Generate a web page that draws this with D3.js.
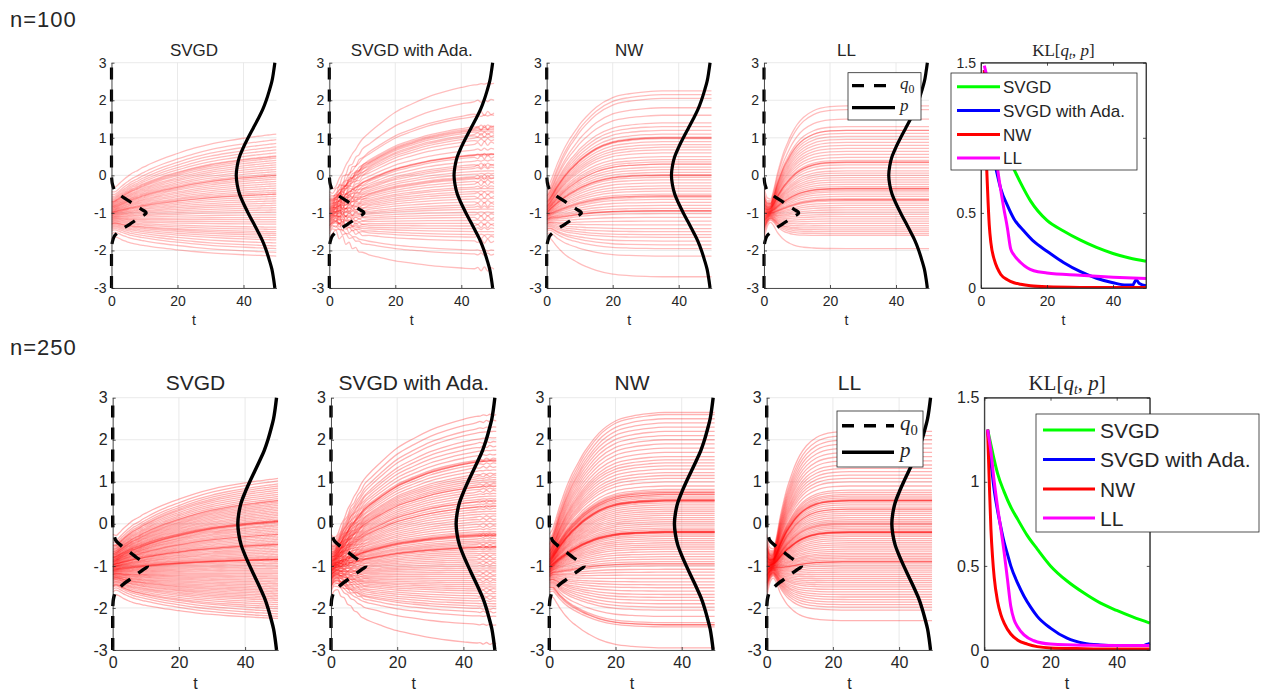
<!DOCTYPE html>
<html><head><meta charset="utf-8">
<script src="https://cdn.jsdelivr.net/npm/d3@7"></script>
<style>
body{margin:0;background:#fff}
svg{display:block}
text{font-family:"Liberation Sans",Arial,Helvetica,sans-serif;fill:#262626}
.serif{font-family:"Liberation Serif","DejaVu Serif",serif}
</style>
</head><body>
<svg id="chart" width="1261" height="691"></svg>
<script>
// ---------------- DATA ----------------
const methods = ["SVGD", "SVGD with Ada.", "NW", "LL"];
const klColors = ["#00ff00", "#0000ff", "#ff0000", "#ff00ff"];
const rowLabels = ["n=100", "n=250"];
const xTicks = [0, 20, 40];
const yTicks = [-3, -2, -1, 0, 1, 2, 3];
const klYTicks = [0, 0.5, 1, 1.5];
const klYTickLabels = ["0", "0.5", "1", "1.5"];

// time grid for particle paths and fraction of the way from start to final position
const timeGrid = [0,1,2,3,4,5,6,7,8,9,10,12,15,20,25,30,35,40,44,45,46,47,48,49,50];
const progSVGD = [0,0.045,0.09,0.13,0.17,0.21,0.25,0.28,0.31,0.35,0.38,0.44,0.52,0.63,0.73,0.81,0.87,0.92,0.955,0.962,0.97,0.978,0.985,0.993,1];
const progAda  = [0,0.05,0.1,0.15,0.2,0.25,0.3,0.34,0.38,0.42,0.46,0.52,0.6,0.72,0.8,0.87,0.92,0.96,0.985,0.99,0.993,0.996,0.998,0.999,1];
const progNW   = [0,0.08,0.16,0.24,0.31,0.38,0.44,0.5,0.55,0.6,0.65,0.73,0.83,0.93,0.97,0.99,1,1,1,1,1,1,1,1,1];
const progLL   = [0,0.02,0.06,0.15,0.27,0.38,0.48,0.56,0.64,0.71,0.77,0.86,0.94,0.99,1,1,1,1,1,1,1,1,1,1,1];
// early contraction of the particles toward the q0 mean
const pinchCenter = -1;
const pinchSVGD = [0,0.12,0.12,0.08,0.05,0.03,0.01,0,0,0,0,0,0,0,0,0,0,0,0,0,0,0,0,0,0];
const pinchAda  = [0,0.3,0.4,0.35,0.3,0.25,0.2,0.15,0.1,0.05,0,0,0,0,0,0,0,0,0,0,0,0,0,0,0];
const pinchNW   = [0,0.15,0.15,0.1,0.06,0.03,0,0,0,0,0,0,0,0,0,0,0,0,0,0,0,0,0,0,0];
const pinchLL   = [0,0.5,0.7,0.65,0.5,0.4,0.3,0.22,0.15,0.1,0.05,0,0,0,0,0,0,0,0,0,0,0,0,0,0];
// zig-zag of the adaptive step size runs
const wobbleAda = [0,0,0.07,-0.08,0.08,-0.07,0.06,-0.05,0.04,-0.03,0.02,0,0,0,0,0,0,0,0,0.04,-0.05,0.06,-0.05,0.04,0];
const wobbleSign = [1,-0.6,0.3,-1,0.7,-0.2,0,0.5];

// initial particle positions (sorted)
const start100 = [-1.70,-1.56,-1.49,-1.44,-1.40,-1.37,-1.34,-1.31,-1.29,-1.26,-1.24,-1.22,-1.20,-1.18,-1.17,-1.15,-1.13,-1.12,-1.10,-1.08,-1.07,-1.05,-1.04,-1.02,-1.01,-0.99,-0.98,-0.96,-0.95,-0.93,-0.92,-0.90,-0.88,-0.87,-0.85,-0.83,-0.82,-0.80,-0.78,-0.76,-0.74,-0.71,-0.69,-0.66,-0.63,-0.60,-0.56,-0.51,-0.44,-0.30];
const start250 = [-1.75,-1.62,-1.56,-1.51,-1.48,-1.45,-1.42,-1.40,-1.38,-1.35,-1.34,-1.32,-1.30,-1.29,-1.27,-1.26,-1.25,-1.23,-1.22,-1.21,-1.20,-1.19,-1.17,-1.16,-1.15,-1.14,-1.13,-1.12,-1.11,-1.10,-1.09,-1.08,-1.07,-1.06,-1.05,-1.04,-1.03,-1.02,-1.02,-1.01,-0.99,-0.98,-0.98,-0.97,-0.96,-0.95,-0.94,-0.93,-0.92,-0.91,-0.90,-0.89,-0.88,-0.87,-0.86,-0.85,-0.84,-0.83,-0.81,-0.80,-0.79,-0.78,-0.77,-0.75,-0.74,-0.73,-0.71,-0.70,-0.68,-0.66,-0.65,-0.62,-0.60,-0.58,-0.55,-0.52,-0.49,-0.44,-0.38,-0.25];

// final particle positions at t = 50 (clusters repeat a value)
const final100SVGD = [-2.15,-2.05,-1.95,-1.88,-1.8,-1.72,-1.66,-1.6,-1.55,-1.5,-1.44,-1.38,-1.3,-1.24,-1.18,-1.12,-1.05,-0.98,-0.92,-0.86,-0.8,-0.74,-0.68,-0.62,-0.56,-0.5,-0.5,-0.45,-0.4,-0.34,-0.28,-0.22,-0.16,-0.1,-0.05,0.0,0.0,0.04,0.1,0.16,0.22,0.28,0.34,0.4,0.46,0.5,0.52,0.6,0.68,0.76,0.85,0.95,1.1];
const final100Ada  = [-2.5,-2.1,-2.0,-1.75,-1.65,-1.58,-1.5,-1.42,-1.35,-1.28,-1.2,-1.12,-1.05,-0.98,-0.9,-0.84,-0.78,-0.7,-0.62,-0.55,-0.48,-0.42,-0.35,-0.3,-0.22,-0.15,-0.08,-0.05,-0.02,0.05,0.12,0.2,0.25,0.3,0.4,0.5,0.55,0.56,0.57,0.7,0.85,0.95,1.02,1.08,1.12,1.18,1.22,1.25,1.28,1.32,1.6,1.66,2.0,2.45];
const final100NW   = [-2.7,-2.15,-1.95,-1.85,-1.75,-1.65,-1.58,-1.5,-1.42,-1.32,-1.22,-1.12,-1.02,-0.95,-0.95,-0.94,-0.88,-0.8,-0.72,-0.64,-0.58,-0.55,-0.55,-0.5,-0.42,-0.35,-0.28,-0.2,-0.12,-0.05,0.0,0.0,0.02,0.08,0.15,0.22,0.3,0.3,0.36,0.42,0.5,0.6,0.68,0.75,0.82,0.9,0.98,1.0,1.0,1.02,1.1,1.2,1.3,1.4,1.6,1.8,2.05,2.15,2.25];
const final100LL   = [-1.95,-1.6,-1.55,-1.5,-1.45,-1.4,-1.34,-1.28,-1.22,-1.16,-1.1,-1.04,-0.98,-0.92,-0.86,-0.8,-0.74,-0.68,-0.65,-0.65,-0.62,-0.56,-0.5,-0.44,-0.4,-0.36,-0.35,-0.35,-0.3,-0.24,-0.18,-0.12,-0.06,0.0,0.06,0.12,0.2,0.28,0.34,0.35,0.36,0.4,0.48,0.56,0.64,0.72,0.8,0.88,0.96,1.04,1.12,1.2,1.2,1.3,1.5,1.75,1.85];
const final250SVGD = [-2.25,-2.2,-2.14,-2.08,-2.02,-1.97,-1.92,-1.87,-1.82,-1.78,-1.74,-1.7,-1.66,-1.62,-1.58,-1.54,-1.5,-1.46,-1.42,-1.38,-1.34,-1.3,-1.26,-1.22,-1.18,-1.14,-1.1,-1.06,-1.02,-0.98,-0.94,-0.9,-0.86,-0.85,-0.85,-0.84,-0.83,-0.8,-0.77,-0.73,-0.69,-0.65,-0.61,-0.57,-0.53,-0.5,-0.49,-0.48,-0.45,-0.41,-0.37,-0.33,-0.29,-0.25,-0.25,-0.21,-0.17,-0.13,-0.09,-0.05,-0.02,0.02,0.05,0.05,0.06,0.08,0.08,0.12,0.16,0.2,0.24,0.28,0.32,0.36,0.4,0.44,0.48,0.52,0.55,0.56,0.6,0.65,0.7,0.75,0.8,0.85,0.9,0.95,1.02,1.08];
const final250Ada  = [-2.85,-2.4,-2.2,-2.1,-2.02,-1.96,-1.9,-1.84,-1.78,-1.72,-1.66,-1.6,-1.55,-1.5,-1.45,-1.4,-1.35,-1.3,-1.25,-1.2,-1.15,-1.1,-1.05,-1.0,-0.95,-0.9,-0.85,-0.8,-0.75,-0.7,-0.65,-0.6,-0.56,-0.55,-0.55,-0.52,-0.48,-0.44,-0.4,-0.35,-0.3,-0.28,-0.27,-0.25,-0.25,-0.22,-0.18,-0.12,-0.06,0.0,0.06,0.12,0.18,0.24,0.3,0.36,0.42,0.42,0.48,0.54,0.55,0.6,0.66,0.72,0.78,0.84,0.9,0.9,0.95,1.0,1.05,1.1,1.15,1.2,1.28,1.36,1.44,1.5,1.5,1.52,1.55,1.65,1.75,1.85,1.95,2.05,2.2,2.3,2.45,2.6];
const final250NW   = [-2.95,-2.45,-2.4,-2.4,-2.35,-2.2,-2.05,-1.98,-1.9,-1.82,-1.75,-1.68,-1.6,-1.52,-1.45,-1.38,-1.3,-1.22,-1.15,-1.08,-1.0,-0.95,-0.95,-0.9,-0.84,-0.78,-0.72,-0.66,-0.6,-0.55,-0.5,-0.45,-0.4,-0.35,-0.3,-0.26,-0.22,-0.21,-0.2,-0.2,-0.19,-0.18,-0.18,-0.14,-0.1,-0.05,0.0,0.05,0.1,0.15,0.2,0.25,0.3,0.35,0.4,0.45,0.5,0.54,0.54,0.55,0.56,0.57,0.58,0.62,0.66,0.7,0.7,0.74,0.75,0.78,0.82,0.9,1.0,1.08,1.15,1.22,1.3,1.38,1.45,1.52,1.6,1.7,1.8,1.9,2.0,2.1,2.2,2.3,2.4,2.5,2.6,2.65];
const final250LL   = [-2.3,-2.05,-1.98,-1.92,-1.86,-1.8,-1.74,-1.68,-1.62,-1.56,-1.5,-1.45,-1.4,-1.35,-1.3,-1.25,-1.2,-1.15,-1.1,-1.05,-1.0,-0.95,-0.91,-0.9,-0.9,-0.86,-0.82,-0.78,-0.74,-0.7,-0.65,-0.6,-0.55,-0.5,-0.45,-0.4,-0.35,-0.3,-0.26,-0.22,-0.21,-0.2,-0.2,-0.19,-0.18,-0.14,-0.1,-0.06,-0.02,0.0,0.02,0.06,0.1,0.15,0.2,0.25,0.3,0.35,0.35,0.4,0.45,0.5,0.54,0.55,0.55,0.56,0.58,0.62,0.66,0.7,0.75,0.8,0.9,1.0,1.08,1.16,1.24,1.32,1.4,1.5,1.6,1.7,1.8,1.9,2.0,2.1,2.2];

// density curves drawn in time units: q0 bulges right from t = 0, p bulges left from t = 50
const q0Y    = [-3,-2.5,-2,-1.9,-1.8,-1.7,-1.6,-1.5,-1.4,-1.3,-1.2,-1.1,-1,-0.9,-0.8,-0.7,-0.6,-0.5,-0.4,-0.3,-0.2,-0.1,0,0.5,1,1.5,2,2.5,3];
const q0Dens = [0,0,0,0.08,0.2,0.5,1.0,2.3,3.8,5.6,7.2,9.0,10.5,9.0,7.2,5.6,3.8,2.3,1.0,0.5,0.2,0.08,0,0,0,0,0,0,0];
const pY     = [-3,-2.75,-2.5,-2.25,-2,-1.75,-1.5,-1.25,-1,-0.75,-0.5,-0.25,0,0.25,0.5,0.75,1,1.25,1.5,1.75,2,2.25,2.5,2.75,3];
const pDens  = [0.5,0.9,1.4,2.2,3.1,4.2,5.6,7.1,8.6,10.0,11.2,11.9,12.2,11.9,11.2,10.0,8.6,7.1,5.6,4.2,3.1,2.2,1.4,0.9,0.5];

// KL[q_t, p] curves, n = 100
const kl100T_SVGD = [1,2,4,6,8,10,12,15,20,25,30,35,40,45,50];
const kl100V_SVGD = [1.45,1.3,1.12,1.0,0.89,0.79,0.7,0.58,0.45,0.38,0.32,0.27,0.23,0.2,0.178];
const kl100T_Ada  = [1,2,3,4,5,6,8,10,13,16,20,25,30,35,40,44,46,47,48,50];
const kl100V_Ada  = [1.45,1.2,1.0,0.85,0.75,0.66,0.55,0.46,0.38,0.31,0.245,0.17,0.11,0.065,0.035,0.02,0.02,0.055,0.03,0.015];
const kl100T_NW   = [1,1.5,2,2.5,3,4,5,6,8,10,12,15,20,30,40,50];
const kl100V_NW   = [1.45,0.95,0.65,0.42,0.3,0.19,0.13,0.09,0.055,0.035,0.025,0.015,0.008,0.004,0.003,0.003];
const kl100T_LL   = [1,2,3,4,5,6,7,8,9,10,12,14,16,20,30,40,50];
const kl100V_LL   = [1.48,1.38,1.2,1.0,0.8,0.65,0.52,0.4,0.26,0.22,0.17,0.135,0.115,0.1,0.085,0.072,0.063];
// KL[q_t, p] curves, n = 250
const kl250T_SVGD = [1,2,3,4,6,8,10,13,16,20,25,30,35,40,45,50];
const kl250V_SVGD = [1.31,1.22,1.13,1.05,0.94,0.85,0.78,0.68,0.6,0.5,0.41,0.34,0.28,0.235,0.195,0.16];
const kl250T_Ada  = [1,2,3,4,5,6,7,8,10,12,14,16,20,25,30,35,40,48,49,50];
const kl250V_Ada  = [1.31,1.12,0.95,0.83,0.73,0.64,0.57,0.5,0.4,0.32,0.255,0.2,0.13,0.07,0.04,0.03,0.027,0.027,0.033,0.04];
const kl250T_NW   = [1,1.5,2,2.5,3,4,5,6,8,10,13,16,20,30,40,50];
const kl250V_NW   = [1.31,1.0,0.72,0.55,0.43,0.29,0.21,0.16,0.095,0.06,0.035,0.02,0.012,0.008,0.006,0.006];
const kl250T_LL   = [1,2,3,4,5,6,7,8,9,10,12,15,20,30,40,50];
const kl250V_LL   = [1.31,1.18,1.0,0.85,0.72,0.58,0.42,0.26,0.18,0.14,0.09,0.055,0.035,0.028,0.027,0.027];

// ---------------- LAYOUT ----------------
const rows = [
  { label: rowLabels[0], labelY: 27, top: 62.7, bottom: 288, lefts: [111.5, 329.3, 546.7, 764, 981], width: 165,
    titleSize: 17, titleY: 56, tickSize: 14, xPad: 8, yPad: 5, tY: 325, curveW: 3.2, alpha: 0.26, wob: 1,
    starts: start100, finals: [final100SVGD, final100Ada, final100NW, final100LL],
    klT: [kl100T_SVGD, kl100T_Ada, kl100T_NW, kl100T_LL], klV: [kl100V_SVGD, kl100V_Ada, kl100V_NW, kl100V_LL],
    leg1: { x: 848, y: 72.7, w: 73, h: 47.3, x1: 852, x2: 895, tx: 900, rows: [85.7, 107.7], fs: 17 },
    leg2: { x: 951, y: 73, w: 186, h: 97, x1: 957, x2: 1000, tx: 1003, rows: [86.7, 110.5, 134.5, 158], fs: 17 } },
  { label: rowLabels[1], labelY: 355, top: 397.7, bottom: 650, lefts: [112.7, 331, 549.3, 766.7, 984.3], width: 165.5,
    titleSize: 21, titleY: 390, tickSize: 16, xPad: 7, yPad: 5, tY: 689, curveW: 3.4, alpha: 0.3, wob: 0.4,
    starts: start250, finals: [final250SVGD, final250Ada, final250NW, final250LL],
    klT: [kl250T_SVGD, kl250T_Ada, kl250T_NW, kl250T_LL], klV: [kl250V_SVGD, kl250V_Ada, kl250V_NW, kl250V_LL],
    leg1: { x: 837, y: 411, w: 86, h: 56, x1: 842, x2: 894, tx: 900, rows: [425.7, 452.3], fs: 21 },
    leg2: { x: 1036, y: 414, w: 223, h: 118, x1: 1043, x2: 1095, tx: 1100, rows: [430, 459.5, 489, 518], fs: 21 } }
];
const progs = [progSVGD, progAda, progNW, progLL];
const pinches = [pinchSVGD, pinchAda, pinchNW, pinchLL];

const AX = "#262626", GRID = "#e4e4e4";
const svg = d3.select("#chart");
const defs = svg.append("defs");

function styleAxis(g, size) {
  g.attr("font-size", null).attr("font-family", null);
  g.select(".domain").attr("stroke", AX).attr("stroke-width", 0.8);
  g.selectAll(".tick line").attr("stroke", AX).attr("stroke-width", 0.8);
  g.selectAll(".tick text").attr("fill", AX).style("font-size", size + "px");
}

rows.forEach((R, ri) => {
  svg.append("text").attr("x", 10).attr("y", R.labelY).style("font-size", "22px")
    .style("letter-spacing", "1px").attr("fill", "#333").text(R.label);

  for (let m = 0; m < 4; m++) {
    const x0 = R.lefts[m];
    const x = d3.scaleLinear().domain([0, 50]).range([x0, x0 + R.width]);
    const y = d3.scaleLinear().domain([-3, 3]).range([R.bottom, R.top]);
    const g = svg.append("g");
    // grid
    g.selectAll(null).data(yTicks).join("line")
      .attr("x1", x(0)).attr("x2", x(50)).attr("y1", d => y(d)).attr("y2", d => y(d))
      .attr("stroke", GRID).attr("stroke-width", 0.8);
    g.selectAll(null).data(xTicks).join("line")
      .attr("x1", d => x(d)).attr("x2", d => x(d)).attr("y1", y(-3)).attr("y2", y(3))
      .attr("stroke", GRID).attr("stroke-width", 0.8);
    // clip
    const cid = `clip${ri}_${m}`;
    defs.append("clipPath").attr("id", cid).append("rect")
      .attr("x", x(0)).attr("y", y(3)).attr("width", x(50) - x(0)).attr("height", y(-3) - y(3));
    const tg = g.append("g").attr("clip-path", `url(#${cid})`);
    const line = d3.line().x(d => x(d[0])).y(d => y(d[1])).curve(d3.curveMonotoneX);
    const F = R.finals[m].slice().sort(d3.ascending), S = R.starts, P = progs[m], Q = pinches[m];
    F.forEach((e, i) => {
      const s = S[Math.round(i * (S.length - 1) / (F.length - 1))];
      const ws = m === 1 ? wobbleSign[i % wobbleSign.length] * R.wob : 0;
      const pts = timeGrid.map((t, k) => {
        const p = P[k], q = Q[k];
        const v = (1 - p) * (s + (pinchCenter - s) * q) + p * e + (m === 1 ? wobbleAda[k] * ws : 0);
        return [t, v];
      });
      tg.append("path").attr("d", line(pts)).attr("fill", "none")
        .attr("stroke", "#ff0000").attr("stroke-opacity", R.alpha).attr("stroke-width", 1.3);
    });
    // density curves
    const dline = d3.line().x(d => x(d[0])).y(d => y(d[1])).curve(d3.curveMonotoneY);
    g.append("path").attr("d", dline(q0Y.map((v, i) => [q0Dens[i], v])))
      .attr("fill", "none").attr("stroke", "#000").attr("stroke-width", R.curveW)
      .attr("stroke-dasharray", "12,10");
    g.append("path").attr("d", dline(pY.map((v, i) => [50 - pDens[i], v])))
      .attr("fill", "none").attr("stroke", "#000").attr("stroke-width", R.curveW);
    // axes
    const ay = g.append("g").attr("transform", `translate(${x(0)},0)`)
      .call(d3.axisLeft(y).tickValues(yTicks).tickSizeInner(-3).tickSizeOuter(0).tickPadding(R.yPad).tickFormat(d => String(d)));
    styleAxis(ay, R.tickSize);
    const ax = g.append("g").attr("transform", `translate(0,${y(-3)})`)
      .call(d3.axisBottom(x).tickValues(xTicks).tickSizeInner(-3).tickSizeOuter(0).tickPadding(R.xPad).tickFormat(d => String(d)));
    styleAxis(ax, R.tickSize);
    // title and x label
    svg.append("text").attr("x", (x(0) + x(50)) / 2).attr("y", R.titleY).attr("text-anchor", "middle")
      .style("font-size", R.titleSize + "px").attr("fill", "#000").text(methods[m]);
    svg.append("text").attr("x", (x(0) + x(50)) / 2).attr("y", R.tY).attr("text-anchor", "middle")
      .style("font-size", R.tickSize + "px").text("t");
  }

  // legend for q0 / p in LL panel
  const L = R.leg1;
  const lg = svg.append("g");
  lg.append("rect").attr("x", L.x).attr("y", L.y).attr("width", L.w).attr("height", L.h)
    .attr("fill", "#fff").attr("stroke", AX).attr("stroke-width", 0.8);
  lg.append("line").attr("x1", L.x1).attr("x2", L.x2).attr("y1", L.rows[0]).attr("y2", L.rows[0])
    .attr("stroke", "#000").attr("stroke-width", R.curveW).attr("stroke-dasharray", "12,10");
  lg.append("line").attr("x1", L.x1).attr("x2", L.x2).attr("y1", L.rows[1]).attr("y2", L.rows[1])
    .attr("stroke", "#000").attr("stroke-width", R.curveW);
  const t1 = lg.append("text").attr("class", "serif").attr("x", L.tx).attr("y", L.rows[0] + L.fs * 0.22)
    .style("font-size", L.fs + "px").attr("fill", "#000");
  t1.append("tspan").style("font-style", "italic").text("q");
  t1.append("tspan").attr("dy", L.fs * 0.2).style("font-size", (L.fs * 0.7) + "px").text("0");
  lg.append("text").attr("class", "serif").attr("x", L.tx).attr("y", L.rows[1] + L.fs * 0.22)
    .style("font-size", L.fs + "px").style("font-style", "italic").attr("fill", "#000").text("p");

  // KL panel
  const k0 = R.lefts[4];
  const kx = d3.scaleLinear().domain([0, 50]).range([k0, k0 + R.width]);
  const ky = d3.scaleLinear().domain([0, 1.5]).range([R.bottom, R.top]);
  const kg = svg.append("g");
  const kcid = `kclip${ri}`;
  defs.append("clipPath").attr("id", kcid).append("rect")
    .attr("x", kx(0)).attr("y", ky(1.5) - 2).attr("width", kx(50) - kx(0) + 2).attr("height", ky(0) - ky(1.5) + 2);
  const kl = d3.line().x(d => kx(d[0])).y(d => ky(d[1])).curve(d3.curveMonotoneX);
  const klg = kg.append("g").attr("clip-path", `url(#${kcid})`);
  for (let m = 0; m < 4; m++) {
    klg.append("path").attr("d", kl(R.klT[m].map((t, i) => [t, R.klV[m][i]])))
      .attr("fill", "none").attr("stroke", klColors[m]).attr("stroke-width", 3);
  }
  kg.append("rect").attr("x", kx(0)).attr("y", ky(1.5)).attr("width", kx(50) - kx(0)).attr("height", ky(0) - ky(1.5))
    .attr("fill", "none").attr("stroke", AX).attr("stroke-width", 0.8);
  const kay = kg.append("g").attr("transform", `translate(${kx(0)},0)`)
    .call(d3.axisLeft(ky).tickValues(klYTicks).tickSizeInner(-3).tickSizeOuter(0).tickPadding(R.yPad).tickFormat((d, i) => klYTickLabels[i]));
  styleAxis(kay, R.tickSize);
  const kay2 = kg.append("g").attr("transform", `translate(${kx(50)},0)`)
    .call(d3.axisRight(ky).tickValues(klYTicks).tickSizeInner(-3).tickSizeOuter(0).tickFormat(""));
  styleAxis(kay2, R.tickSize);
  const kax = kg.append("g").attr("transform", `translate(0,${ky(0)})`)
    .call(d3.axisBottom(kx).tickValues(xTicks).tickSizeInner(-3).tickSizeOuter(0).tickPadding(R.xPad).tickFormat(d => String(d)));
  styleAxis(kax, R.tickSize);
  const kax2 = kg.append("g").attr("transform", `translate(0,${ky(1.5)})`)
    .call(d3.axisTop(kx).tickValues(xTicks).tickSizeInner(-3).tickSizeOuter(0).tickFormat(""));
  styleAxis(kax2, R.tickSize);
  svg.append("text").attr("x", (kx(0) + kx(50)) / 2).attr("y", R.tY).attr("text-anchor", "middle")
    .style("font-size", R.tickSize + "px").text("t");
  // KL title
  const tt = svg.append("text").attr("class", "serif").attr("x", (kx(0) + kx(50)) / 2).attr("y", R.titleY)
    .attr("text-anchor", "middle").style("font-size", (R.titleSize) + "px").attr("fill", "#000");
  tt.append("tspan").text("KL[");
  tt.append("tspan").style("font-style", "italic").text("q");
  tt.append("tspan").attr("dy", R.titleSize * 0.2).style("font-size", (R.titleSize * 0.65) + "px").style("font-style", "italic").text("t");
  tt.append("tspan").attr("dy", -R.titleSize * 0.2).text(", ");
  tt.append("tspan").style("font-style", "italic").text("p");
  tt.append("tspan").text("]");

  // KL legend
  const K = R.leg2;
  const kl2 = svg.append("g");
  kl2.append("rect").attr("x", K.x).attr("y", K.y).attr("width", K.w).attr("height", K.h)
    .attr("fill", "#fff").attr("stroke", AX).attr("stroke-width", 0.8);
  methods.forEach((name, i) => {
    kl2.append("line").attr("x1", K.x1).attr("x2", K.x2).attr("y1", K.rows[i]).attr("y2", K.rows[i])
      .attr("stroke", klColors[i]).attr("stroke-width", 3);
    kl2.append("text").attr("x", K.tx).attr("y", K.rows[i] + K.fs * 0.36)
      .style("font-size", K.fs + "px").attr("fill", "#000").text(name);
  });
});
</script>
</body></html>
